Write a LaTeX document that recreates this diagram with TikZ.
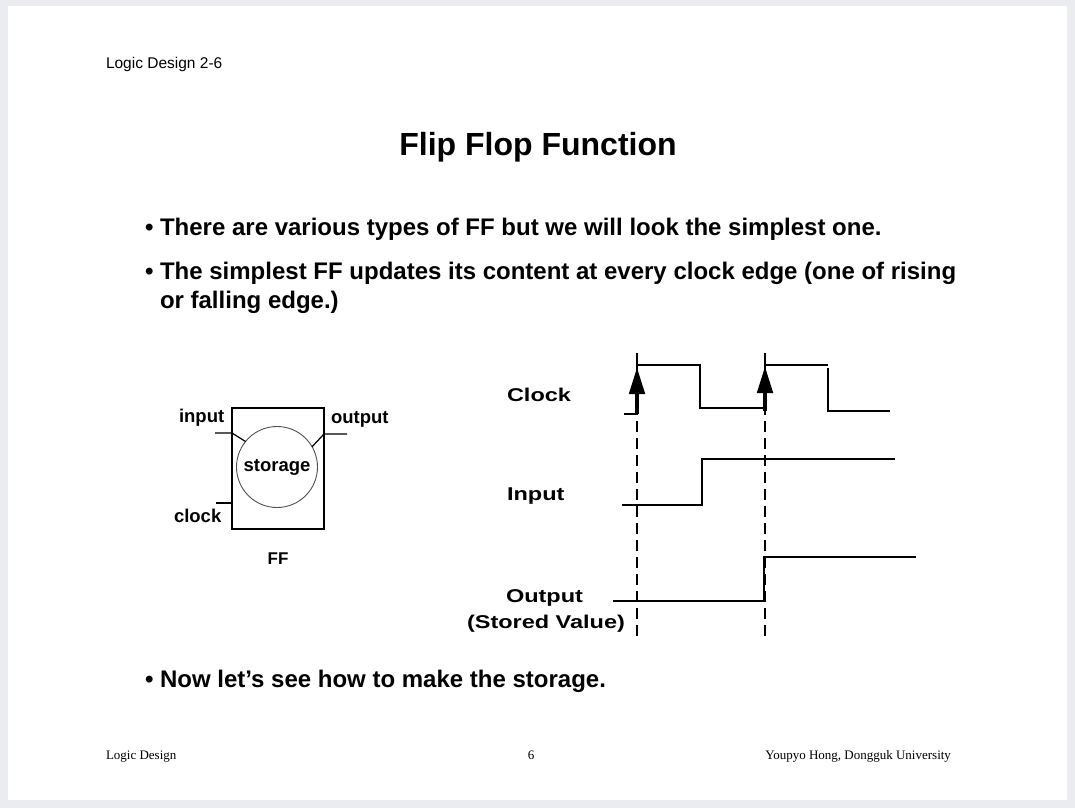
\documentclass[tikz,border=0pt]{standalone}
\usepackage{fontspec}
\setmainfont{Liberation Sans}
\newfontfamily\footfont{Liberation Serif}
\usepackage{graphicx}
\usetikzlibrary{arrows.meta,positioning}
\definecolor{pagegray}{RGB}{235,236,240}
\definecolor{ringgray}{RGB}{80,80,80}
\newcommand{\wide}[1]{\scalebox{1.27}[1]{#1}}

\begin{document}
\begin{tikzpicture}[
  x=1pt,y=-1pt,
  every node/.style={inner sep=0pt,outer sep=0pt},
  txt/.style={anchor=base west,font=\fontsize{18.5}{21}\selectfont\bfseries},
  bul/.style={anchor=base west,font=\fontsize{24}{28}\selectfont\bfseries},
  foot/.style={anchor=base,font=\footfont\fontsize{13}{15}\selectfont},
  wire/.style={line width=1.2pt},
  wave/.style={line width=1.6pt},
  edgeline/.style={dash pattern=on 11pt off 6pt,line width=1.2pt},
  tick/.style={line width=4.7pt,-{Triangle[length=27pt,width=15pt]}}
]
  % Page
  \useasboundingbox (0,0) rectangle (1075,808);
  \fill[pagegray] (0,0) rectangle (1075,808);
  \fill[white] (8,6) rectangle (1067,800);

  % Header, title and bullets
  \node[anchor=base west,font=\fontsize{15.5}{18}\selectfont] (head) at (106,68) {Logic Design 2-6};
  \node[anchor=base,font=\fontsize{32}{36}\selectfont\bfseries] (title) at (538,155) {Flip Flop Function};
  \node[bul] (b1) at (145,235) {• There are various types of FF but we will look the simplest one.};
  \node[bul] (b2) at (145,279) {• The simplest FF updates its content at every clock edge (one of rising};
  \node[bul] (b2b) at (160,308) {or falling edge.)};
  \node[bul] (b3) at (145,687) {• Now let’s see how to make the storage.};

  % Flip flop block
  \node[draw,wire,minimum width=92pt,minimum height=121pt] (ff) at (278,468.5) {};
  \node[draw=ringgray,line width=0.9pt,circle,minimum size=81pt,
        font=\fontsize{18.5}{21}\selectfont\bfseries] (stor) at (277,467) {storage};
  \node[txt] (lin) at (179,422) {input};
  \node[txt] (lout) at (331,423) {output};
  \node[txt] (lclk) at (174,522) {clock};
  \node[anchor=base,font=\fontsize{17}{20}\selectfont\bfseries] (lff) at (278,564) {FF};

  \coordinate (pin) at (215,433);
  \coordinate (pout) at (347,434);
  \coordinate (pclk) at (216,503);
  \draw[wire] (pin) -- (pin -| ff.west) -- (stor.141);
  \draw[wire] (pout) -- (pout -| ff.east) -- (stor.30);
  \draw[wire] (pclk) -- (pclk -| ff.west);

  % Timing labels
  \node[txt] (tclk) at (507,401) {\wide{Clock}};
  \node[txt] (tin) at (507,500) {\wide{Input}};
  \node[txt] (tout) at (506,602) {\wide{Output}};
  \node[txt] (tsv) at (467,628) {\wide{(Stored Value)}};

  % Waveforms
  \draw[wave] (624,414) -- (637,414) -- (637,365) -- (700,365) -- (700,408)
    -- (765,408) -- (765,365) -- (828,365);
  \draw[wave] (828,368) -- (828,411) -- (890,411);
  \draw[wave] (622,505) -- (702,505) -- (702,459) -- (895,459);
  \draw[wave] (613,601) -- (764,601) -- (764,557) -- (916,557);

  % Clock edges
  \draw[edgeline] (637,353) -- (637,642);
  \draw[edgeline] (765,353) -- (765,642);
  \draw[tick] (637,414) -- (637,367);
  \draw[tick] (765,411) -- (765,366);

  % Footer
  \node[foot,anchor=base west] (f1) at (106,759) {Logic Design};
  \node[foot] (f2) at (531,759) {6};
  \node[foot,anchor=base east] (f3) at (951,759) {Youpyo Hong, Dongguk University};
\end{tikzpicture}
\end{document}
